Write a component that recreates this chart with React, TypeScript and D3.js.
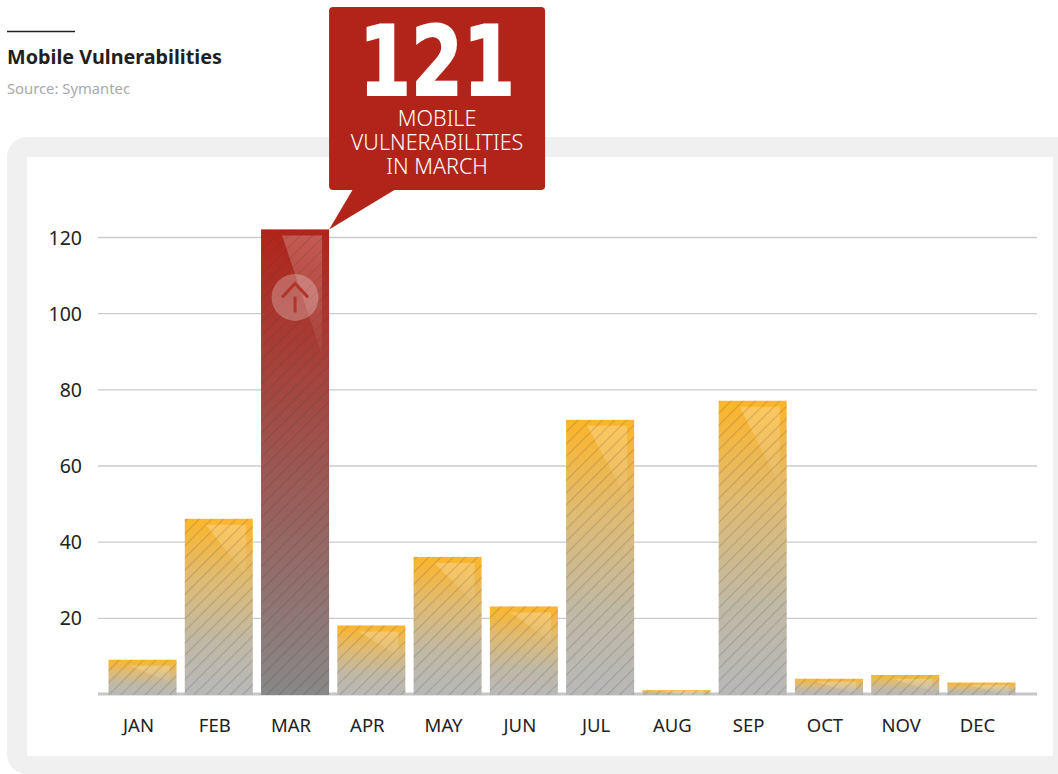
import { useEffect, useRef } from 'react';
import * as d3 from 'd3';

const months = ['JAN', 'FEB', 'MAR', 'APR', 'MAY', 'JUN', 'JUL', 'AUG', 'SEP', 'OCT', 'NOV', 'DEC'];
const vulnerabilities = [9, 46, 122, 18, 36, 23, 72, 1, 77, 4, 5, 3];
const yTicks = [20, 40, 60, 80, 100, 120];
const peakMonth = 'MAR';
const calloutLines = ['MOBILE', 'VULNERABILITIES', 'IN MARCH'];

const WIDTH = 1058;
const HEIGHT = 774;
const SANS = '"Noto Sans", "Open Sans", sans-serif';
const RED = '#b2241a';

export default function App() {
    const svgRef = useRef<SVGSVGElement>(null);

    useEffect(() => {
        if (!svgRef.current) return;

        // Clear previous chart
        d3.select(svgRef.current).selectAll('*').remove();
        const svg = d3.select(svgRef.current);

        // Scales
        const x = d3.scaleBand<string>().domain(months).range([108.5, 1015.5]).paddingInner(0.108);
        const y = d3.scaleLinear().domain([0, 120]).range([694, 237]);

        // Defs: bar gradients, highlight fade, hatch
        const defs = svg.append('defs');
        const barGradient = (id: string, stops: [string, string][]) => {
            const g = defs.append('linearGradient').attr('id', id).attr('x1', 0).attr('y1', 0).attr('x2', 0).attr('y2', 1);
            stops.forEach(([offset, color]) => g.append('stop').attr('offset', offset).attr('stop-color', color));
        };
        barGradient('barOrange', [['0%', '#fdb52a'], ['35%', '#dfbb74'], ['70%', '#c0b9a6'], ['100%', '#b8b8b8']]);
        barGradient('barRed', [['0%', RED], ['100%', '#888888']]);

        const fade = defs.append('linearGradient').attr('id', 'fade').attr('x1', 0).attr('y1', 0).attr('x2', 0).attr('y2', 1);
        fade.append('stop').attr('offset', '0%').attr('stop-color', '#fff').attr('stop-opacity', 0.24);
        fade.append('stop').attr('offset', '100%').attr('stop-color', '#fff').attr('stop-opacity', 0.03);

        const hatch = defs.append('pattern').attr('id', 'hatch').attr('patternUnits', 'userSpaceOnUse')
            .attr('width', 8.6).attr('height', 8.6).attr('patternTransform', 'rotate(45)');
        hatch.append('rect').attr('width', 1.2).attr('height', 8.6).attr('fill', '#3a3a3a').attr('opacity', 0.2);

        // Heading
        svg.append('line').attr('x1', 7).attr('x2', 75).attr('y1', 31.5).attr('y2', 31.5)
            .attr('stroke', '#222').attr('stroke-width', 1.3);
        svg.append('text').attr('x', 7).attr('y', 64).attr('font-family', SANS).attr('font-weight', 700)
            .attr('font-size', 20).attr('fill', '#231f20').attr('textLength', 215).attr('lengthAdjust', 'spacingAndGlyphs')
            .text('Mobile Vulnerabilities');
        svg.append('text').attr('x', 7).attr('y', 94).attr('font-family', SANS)
            .attr('font-size', 14.5).attr('fill', '#a9a9a9').attr('textLength', 123).attr('lengthAdjust', 'spacingAndGlyphs')
            .text('Source: Symantec');

        // Panel
        svg.append('rect').attr('x', 7).attr('y', 137).attr('width', 1080).attr('height', 637).attr('rx', 20).attr('fill', '#f0f0f0');
        svg.append('rect').attr('x', 27).attr('y', 157).attr('width', 1026).attr('height', 599).attr('fill', '#fff');

        // Y axis with gridlines
        const yAxis = svg.append('g')
            .attr('transform', 'translate(98,0)')
            .call(d3.axisRight(y).tickValues(yTicks).tickSize(939).tickFormat(d3.format('d')));
        yAxis.select('.domain').remove();
        yAxis.selectAll('line').attr('stroke', '#cbcbcb').attr('stroke-width', 1.4);
        yAxis.selectAll('text')
            .attr('x', -16).attr('dy', '0.36em').attr('text-anchor', 'end')
            .attr('font-family', SANS).attr('font-size', 19.5).attr('fill', '#222');

        // Baseline
        svg.append('line').attr('x1', 98).attr('x2', 1037).attr('y1', y(0)).attr('y2', y(0))
            .attr('stroke', '#c6c6c6').attr('stroke-width', 3);

        // X axis
        const xAxis = svg.append('g')
            .attr('transform', `translate(0,${y(0)})`)
            .call(d3.axisBottom(x).tickSize(0));
        xAxis.select('.domain').remove();
        xAxis.selectAll('text')
            .attr('x', -4).attr('y', 38).attr('dy', 0)
            .attr('font-family', SANS).attr('font-size', 18.5).attr('fill', '#222');

        // Bars
        const data = months.map((m, i) => ({ month: m, value: vulnerabilities[i] }));
        const bars = svg.append('g').selectAll('g').data(data).enter().append('g');

        bars.append('rect')
            .attr('x', d => x(d.month) || 0)
            .attr('y', d => y(d.value))
            .attr('width', x.bandwidth())
            .attr('height', d => y(0) - y(d.value) + 1)
            .attr('fill', d => (d.month === peakMonth ? 'url(#barRed)' : 'url(#barOrange)'));

        // Sheen on each bar, scaled with its height
        bars.append('path')
            .attr('d', d => {
                const left = (x(d.month) || 0) + 21;
                const right = (x(d.month) || 0) + 61;
                const h = y(0) - y(d.value);
                const top = y(d.value) + Math.min(6, h * 0.2);
                const bottom = top + h * 0.24 + 8;
                return `M${left},${top}L${right},${top}L${right},${bottom}Z`;
            })
            .attr('fill', 'url(#fade)');

        bars.append('rect')
            .attr('x', d => x(d.month) || 0)
            .attr('y', d => y(d.value))
            .attr('width', x.bandwidth())
            .attr('height', d => y(0) - y(d.value) + 1)
            .attr('fill', 'url(#hatch)');

        // Arrow badge on the peak bar
        const peakX = (x(peakMonth) || 0) + x.bandwidth() / 2;
        const peakTop = y(vulnerabilities[months.indexOf(peakMonth)]);
        const badge = svg.append('g').attr('transform', `translate(${peakX},${peakTop + 68})`);
        badge.append('circle').attr('r', 23.5).attr('fill', '#fff').attr('opacity', 0.26);
        badge.append('path').attr('d', 'M-13,0L0,-14L13,0M0,-1V15')
            .attr('fill', 'none').attr('stroke', '#b3342b').attr('stroke-width', 3);

        // Callout
        const calloutRight = peakX + x.bandwidth() / 2;
        const callout = svg.append('g');
        callout.append('path')
            .attr('d', `M${calloutRight + 24},189L${calloutRight},${peakTop}L${calloutRight + 67},189Z`)
            .attr('fill', RED);
        callout.append('rect').attr('x', calloutRight).attr('y', 7).attr('width', 216).attr('height', 183).attr('rx', 4).attr('fill', RED);
        const cx = calloutRight + 108;
        callout.append('text').attr('x', cx).attr('y', 95).attr('text-anchor', 'middle')
            .attr('font-family', '"DejaVu Sans", sans-serif').attr('font-weight', 700).attr('font-size', 96)
            .attr('fill', '#fff').attr('stroke', '#fff').attr('stroke-width', 2)
            .attr('textLength', 156).attr('lengthAdjust', 'spacingAndGlyphs')
            .text('121');
        callout.selectAll('text.line').data(calloutLines).enter().append('text')
            .attr('class', 'line')
            .attr('x', cx)
            .attr('y', (_, i) => 126 + i * 24)
            .attr('text-anchor', 'middle')
            .attr('font-family', SANS).attr('font-weight', 300).attr('font-size', 21.5)
            .attr('fill', '#fff')
            .text(d => d);
    }, []);

    return (
        <svg
            ref={svgRef}
            width={WIDTH}
            height={HEIGHT}
            style={{ position: 'absolute', left: 0, top: 0, display: 'block' }}
        />
    );
}
